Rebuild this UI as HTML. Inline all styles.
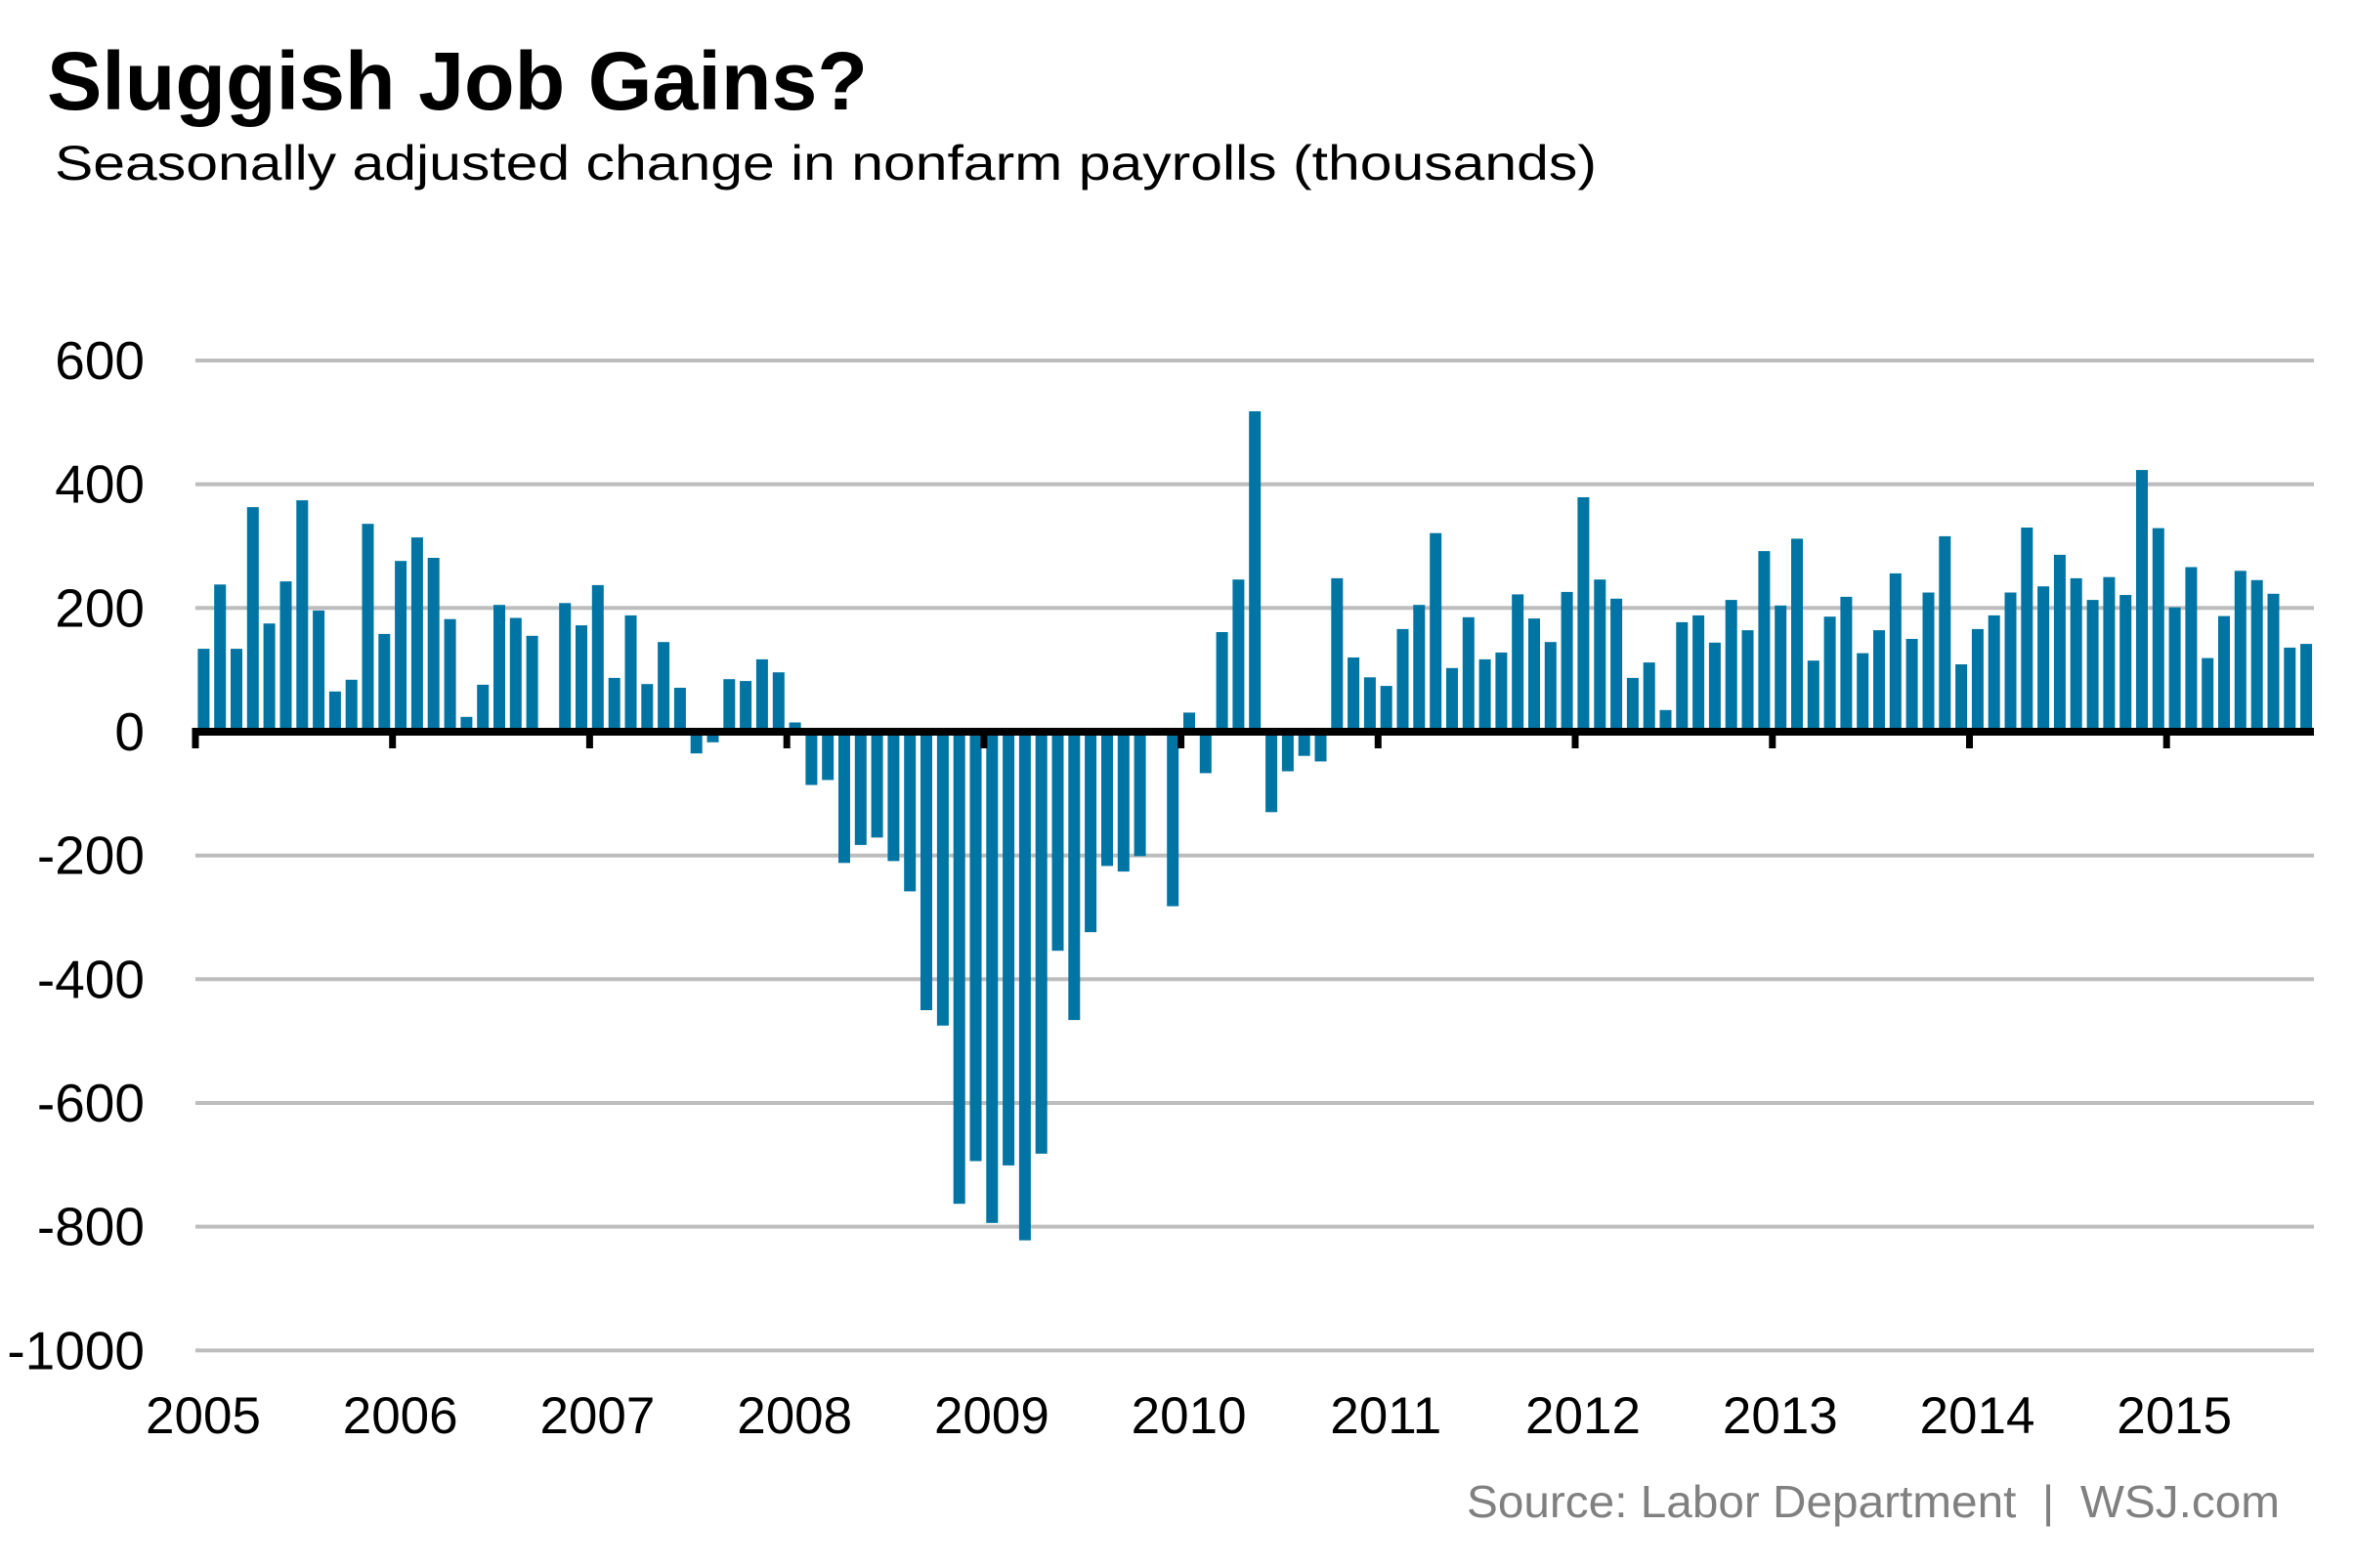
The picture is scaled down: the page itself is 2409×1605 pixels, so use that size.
<!DOCTYPE html>
<html><head><meta charset="utf-8"><style>
html,body{margin:0;padding:0;background:#fff;}
svg{display:block;}
</style></head><body>
<svg id="c" xmlns="http://www.w3.org/2000/svg" width="2409" height="1605" viewBox="0 0 2409 1605" font-family="'Liberation Sans', Arial, sans-serif" xml:space="preserve">
<rect width="2409" height="1605" fill="#fff"/>
<text x="48" y="112" font-size="84" font-weight="bold" fill="#000" textLength="840" lengthAdjust="spacingAndGlyphs">Sluggish Job Gains?</text>
<text x="56" y="184" font-size="50" fill="#000" textLength="1578" lengthAdjust="spacingAndGlyphs">Seasonally adjusted change in nonfarm payrolls (thousands)</text>
<g id="grid"></g>
<g id="bars" fill="#0074a2"></g>
<g id="axis"></g>
<g id="ylab" font-size="55" fill="#000" text-anchor="end"></g>
<g id="xlab" font-size="53" fill="#000" text-anchor="middle"></g>
<text x="1501" y="1553" font-size="46" fill="#808080" textLength="832" lengthAdjust="spacingAndGlyphs">Source: Labor Department&#160;&#160;|&#160;&#160;WSJ.com</text>
</svg>
<script>
var NS="http://www.w3.org/2000/svg";
function el(p,t,a,txt){var e=document.createElementNS(NS,t);for(var k in a)e.setAttribute(k,a[k]);if(txt!==undefined)e.textContent=txt;document.getElementById(p).appendChild(e);}
var Z=749,S=0.6333,X0=200,M=16.81,XE=2368;
var d=[134,238,134,363,175,243,374,196,65,84,336,158,
276,314,281,182,24,76,205,184,155,0,208,172,
237,87,188,77,145,71,-35,-17,85,82,117,96,
15,-86,-78,-212,-183,-171,-209,-258,-450,-475,-763,-694,
-794,-701,-822,-682,-354,-466,-324,-217,-226,-201,0,-282,
31,-67,161,246,518,-130,-64,-39,-48,248,120,88,
74,166,205,321,103,185,117,128,222,183,145,226,
379,246,215,87,112,35,177,188,144,213,164,292,
204,312,115,186,218,127,164,256,150,225,316,109,
166,188,225,330,235,286,248,213,250,221,423,329,
201,266,119,187,260,245,223,136,142];
for(var v=600;v>=-1000;v-=200){
  var y=Z-v*S;
  if(v!==0) el("grid","rect",{x:X0,y:(y-2).toFixed(1),width:XE-X0,height:4,fill:"#bdbdbd"});
  el("ylab","text",{x:148,y:(y+19).toFixed(1)},String(v));
}
for(var i=0;i<d.length;i++){
  var cx=X0+(i+0.5)*M,h=Math.abs(d[i])*S;
  if(h<0.5)continue;
  var y=d[i]>0?Z-h:Z;
  el("bars","rect",{x:(cx-6).toFixed(1),y:y.toFixed(1),width:12,height:h.toFixed(1)});
}
el("axis","rect",{x:197,y:745,width:XE-197,height:8,fill:"#000"});
for(var k=0;k<=10;k++){
  var tx=X0+k*12*M;
  el("axis","rect",{x:(tx-3.5).toFixed(1),y:745,width:7,height:21,fill:"#000"});
  el("xlab","text",{x:(tx+8).toFixed(1),y:1467},String(2005+k));
}
</script>
</body></html>
